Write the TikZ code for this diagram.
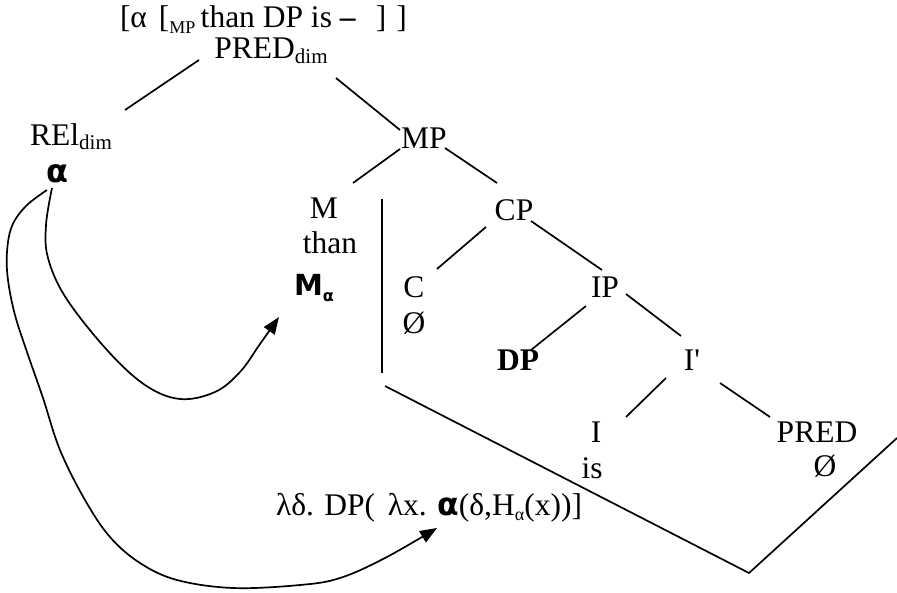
\documentclass[tikz,border=0pt]{standalone}
\usepackage{fontspec}
\setmainfont{Liberation Serif}
\newfontfamily\heavy{DejaVu Sans}
\usetikzlibrary{arrows.meta}
% lowered, smaller text: size, drop, text
\newcommand{\subtxt}[3]{\raisebox{-#2pt}{\fontsize{#1}{#1}\selectfont #3}}
\newcommand{\hv}[1]{{\heavy\bfseries #1}}

\begin{document}
\begin{tikzpicture}[x=1pt,y=-1pt,
  every node/.style={inner sep=0pt,outer sep=0pt,anchor=base,
    font=\fontsize{31.5}{36}\selectfont},
  edge/.style={line width=1.7pt},
  movearrow/.style={line width=1.7pt,-{Triangle[length=17pt,width=13pt]}}]
\useasboundingbox (0,0) rectangle (897,592);

% labels
\node[anchor=base west] (top) at (120,27)
  {[α\hspace{12pt}[\subtxt{18}{6}{MP}\,than DP is \textbf{–}\hspace{20pt}]\hspace{10pt}]};
\node (pred) at (271,58) {PRED\subtxt{21}{5}{dim}};
\node (rel) at (71,145) {REl\subtxt{21}{4}{dim}};
\node (mp) at (424,148) {MP};
\node[font=\fontsize{32}{34}\selectfont] (alpha) at (57,182) {\hv{α}};
\node (m) at (324,218) {M};
\node (than) at (330,253) {than};
\node[font=\fontsize{29}{30}\selectfont,anchor=base west] (malpha) at (294,295)
  {\hv{M\subtxt{16}{6}{α}}};
\node (cp) at (514,220) {CP};
\node (c) at (414,297) {C};
\node (cnull) at (414,333) {Ø};
\node (ip) at (605,297) {IP};
\node (dp) at (518,370) {\bfseries DP};
\node (ibar) at (692,370) {I\textquotesingle};
\node (i) at (596,442) {I};
\node (is) at (592,478) {is};
\node (pred2) at (817,442) {PRED};
\node (prednull) at (825,476) {Ø};
\node (lam) at (429,515) {λδ. DP(\hspace{0.4em}λx. \hv{α}(δ,H\subtxt{18}{5}{α}(x))]};

% tree branches
\draw[edge] ([shift={(-72,2)}]pred.base) -- ([shift={(54,-35)}]rel.base);
\draw[edge] ([shift={(65,20)}]pred.base) -- ([shift={(-24,-18)}]mp.base);
\draw[edge] ([shift={(-24,1)}]mp.base) -- ([shift={(29,-35)}]m.base);
\draw[edge] ([shift={(21,0)}]mp.base) -- ([shift={(-17,-37)}]cp.base);
\draw[edge] ([shift={(-28,7)}]cp.base) -- ([shift={(23,-28)}]c.base);
\draw[edge] ([shift={(17,1)}]cp.base) -- ([shift={(-3,-27)}]ip.base);
\draw[edge] ([shift={(-19,9)}]ip.base) -- ([shift={(13,-20)}]dp.base);
\draw[edge] ([shift={(21,-3)}]ip.base) -- ([shift={(-11,-34)}]ibar.base);
\draw[edge] ([shift={(-26,8)}]ibar.base) -- ([shift={(30,-25)}]i.base);
\draw[edge] ([shift={(28,13)}]ibar.base) -- ([shift={(-47,-25)}]pred2.base);

% bracket lines
\draw[edge] (382,199) -- (382,373);
\draw[edge] (385,386) -- (749,573) -- (897,438);

% movement arrows
\draw[movearrow] plot[smooth,tension=0.6] coordinates {([shift={(-5,6)}]alpha.base)
  (46,225) (48,258) (66,298) (107,350) (145,385) (180,399) (215,392) (240,372) (260,344)
  ([shift={(-15,22)}]malpha.base west)};
\draw[movearrow] plot[smooth,tension=0.6] coordinates {([shift={(-10,8)}]alpha.base)
  (26,206) (12,226) (7,252) (8,280) (15,315) (27,352) (43,398) (60,450) (85,500)
  (110,537) (140,563) (177,580) (233,588) (300,585) (340,578) (385,558)
  ([shift={(8,13)}]lam.base)};
\end{tikzpicture}
\end{document}
